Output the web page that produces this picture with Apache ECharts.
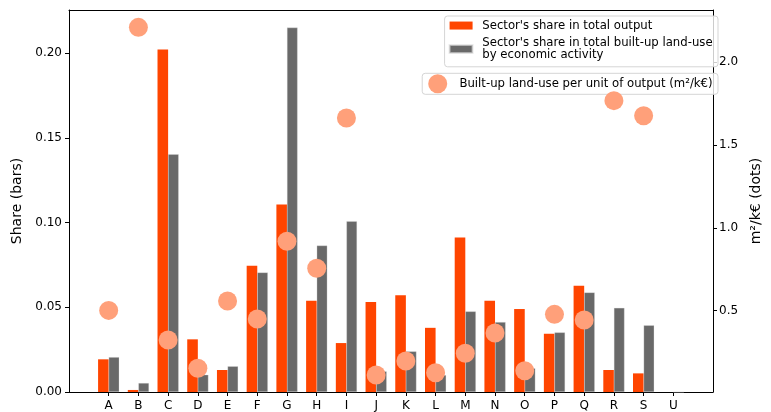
<!DOCTYPE html>
<html>
<head>
<meta charset="utf-8">
<script src="https://cdn.jsdelivr.net/npm/echarts@6/dist/echarts.min.js"></script>
<style>html,body{margin:0;padding:0;background:#fff}#c{width:771px;height:412px}</style>
</head>
<body>
<div id="c"></div>
<script>
const categories = ['A','B','C','D','E','F','G','H','I','J','K','L','M','N','O','P','Q','R','S','U'];
const outputShare = [0.0193,0.0012,0.2022,0.0311,0.0130,0.0745,0.1107,0.0539,0.0289,0.0531,0.0572,0.0379,0.0913,0.0539,0.0490,0.0344,0.0627,0.0130,0.0110,0];
const landShare   = [0.0206,0.0053,0.1404,0.0102,0.0152,0.0706,0.2152,0.0865,0.1009,0.0122,0.0240,0.0100,0.0476,0.0413,0.0140,0.0352,0.0588,0.0497,0.0394,0];
const landPerOutput = [0.502,2.209,0.323,0.153,0.559,0.450,0.919,0.756,1.662,0.112,0.197,0.126,0.243,0.365,0.138,0.478,0.444,1.767,1.676];
const leftTicks = [0,0.05,0.10,0.15,0.20];
const rightTicks = [0.5,1.0,1.5,2.0];

const nameOut = "Sector's share in total output";
const nameLand = "Sector's share in total built-up land-use\nby economic activity";
const nameDots = "Built-up land-use per unit of output (m²/k€)";

const font = 'DejaVu Sans';
const idx = categories.map((_, i) => i);

const chart = echarts.init(document.getElementById('c'), null, {renderer: 'canvas'});
chart.setOption({
  animation: false,
  backgroundColor: '#fff',
  textStyle: {fontFamily: font},
  grid: {left: 69, right: 47, top: 10, bottom: 20, containLabel: false},
  legend: [
    {
      data: [{name: nameOut, icon: 'rect'}, {name: nameLand, icon: 'rect'}],
      orient: 'vertical', right: 53, top: 16,
      itemWidth: 23, itemHeight: 8, itemGap: 4.5,
      padding: [3.2, 5.4, 5, 4],
      borderColor: '#d5d5d5', borderWidth: 1, borderRadius: 3,
      backgroundColor: 'rgba(255,255,255,0.8)',
      textStyle: {fontFamily: font, fontSize: 11.7, color: '#000', lineHeight: 12.7, padding: [0, 0, 0, 4.7]}
    },
    {
      data: [{name: nameDots, icon: 'circle'}],
      orient: 'vertical', right: 53, top: 73.3,
      itemWidth: 20, itemHeight: 19,
      padding: [1, 5.4, 1, 6],
      borderColor: '#d5d5d5', borderWidth: 1, borderRadius: 3,
      backgroundColor: 'rgba(255,255,255,0.8)',
      textStyle: {fontFamily: font, fontSize: 11.7, color: '#000', padding: [0, 0, 0, 6.7]}
    }
  ],
  xAxis: [
    {
      type: 'value', position: 'bottom', min: -1.335, max: 20.335,
      axisLine: {show: true, onZero: false, lineStyle: {color: '#000', width: 1}},
      axisTick: {show: true, length: 4, customValues: idx, lineStyle: {color: '#000'}},
      axisLabel: {customValues: idx, formatter: v => categories[Math.round(v)], fontSize: 12, color: '#000', margin: 8, fontFamily: font},
      splitLine: {show: false}
    },
    {
      type: 'value', position: 'top', min: -1.335, max: 20.335,
      axisLine: {show: true, onZero: false, lineStyle: {color: '#000', width: 1}},
      axisTick: {show: false}, axisLabel: {show: false}, splitLine: {show: false}
    }
  ],
  yAxis: [
    {
      type: 'value', position: 'left', min: 0, max: 0.2256,
      name: 'Share (bars)', nameLocation: 'middle', nameGap: 42,
      nameTextStyle: {fontSize: 14, color: '#000', fontFamily: font},
      axisLine: {show: true, onZero: false, lineStyle: {color: '#000', width: 1}},
      axisTick: {show: true, length: 4, customValues: leftTicks, lineStyle: {color: '#000'}},
      axisLabel: {customValues: leftTicks, formatter: v => v.toFixed(2), fontSize: 12, color: '#000', margin: 7, fontFamily: font},
      splitLine: {show: false}
    },
    {
      type: 'value', position: 'right', min: 0.0097, max: 2.3137,
      name: 'm²/k€ (dots)', nameLocation: 'middle', nameGap: 20, nameRotate: 90,
      nameTextStyle: {fontSize: 14, color: '#000', fontFamily: font},
      axisLine: {show: true, onZero: false, lineStyle: {color: '#000', width: 1}},
      axisTick: {show: true, length: 4, customValues: rightTicks, lineStyle: {color: '#000'}},
      axisLabel: {customValues: rightTicks, formatter: v => v.toFixed(1), fontSize: 12, color: '#000', margin: 6, fontFamily: font},
      splitLine: {show: false}
    }
  ],
  series: [
    {
      name: nameOut, type: 'bar', xAxisIndex: 0, yAxisIndex: 0,
      barWidth: 10.6, barGap: '0%',
      itemStyle: {color: '#FF4500'},
      data: outputShare.map((v, i) => [i, v])
    },
    {
      name: nameLand, type: 'bar', xAxisIndex: 0, yAxisIndex: 0,
      barWidth: 10.6, barGap: '0%',
      itemStyle: {color: '#696969', borderColor: 'rgba(220,220,220,0.6)', borderWidth: 0.5},
      data: landShare.map((v, i) => [i, v])
    },
    {
      name: nameDots, type: 'scatter', xAxisIndex: 0, yAxisIndex: 1,
      symbol: 'circle', symbolSize: 19, z: 5,
      itemStyle: {color: '#FFA07A', opacity: 1},
      data: landPerOutput.map((v, i) => [i, v])
    }
  ]
});
</script>
</body>
</html>
